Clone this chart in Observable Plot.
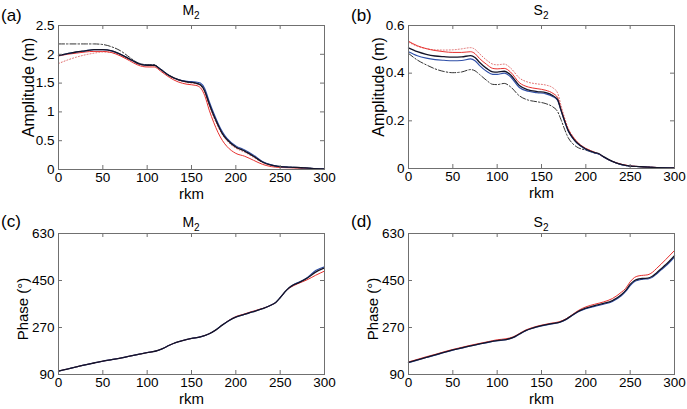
<!DOCTYPE html>
<html>
<head>
<meta charset="utf-8">
<script src="https://cdn.jsdelivr.net/npm/d3@7"></script>
<script src="https://cdn.jsdelivr.net/npm/@observablehq/plot@0.6"></script>
<style>
  html, body { margin: 0; padding: 0; background: #fff; }
  #root { position: relative; width: 687px; height: 409px; overflow: hidden; font-family: "Liberation Sans", Arial, sans-serif; color: #000; }
  .panel { position: absolute; }
  .tag { position: absolute; font-size: 17px; line-height: 17px; }
  .ttl { position: absolute; font-size: 14px; line-height: 14px; transform: translateX(-50%); white-space: nowrap; }
  .ttl sub { font-size: 10px; vertical-align: -4px; }
</style>
</head>
<body>
<div id="root"></div>
<script>
// ---------- data ----------
const xTicks = [0, 50, 100, 150, 200, 250, 300];
const ampM2Ticks = [0, 0.5, 1, 1.5, 2, 2.5];
const ampS2Ticks = [0, 0.2, 0.4, 0.6];
const phaseTicks = [90, 270, 450, 630];

// (a) M2 amplitude
const kmA = [0,10,20,30,40,50,60,70,80,90,100,108,115,125,135,145,155,160,165,170,175,180,185,190,200,210,220,230,240,250,260,270,285,300];
const ampM2Black = [1.98,2.01,2.04,2.06,2.08,2.08,2.06,2.00,1.92,1.84,1.81,1.81,1.74,1.63,1.56,1.52,1.50,1.47,1.36,1.14,0.94,0.77,0.62,0.52,0.39,0.32,0.23,0.13,0.075,0.05,0.04,0.035,0.02,0.01];
const ampM2Blue  = [1.98,2.01,2.04,2.06,2.08,2.08,2.06,2.00,1.92,1.84,1.81,1.81,1.74,1.63,1.56,1.53,1.52,1.50,1.40,1.18,0.98,0.80,0.65,0.54,0.41,0.34,0.25,0.14,0.08,0.05,0.04,0.035,0.02,0.01];
const ampM2Red   = [1.97,2.00,2.02,2.04,2.05,2.05,2.03,1.97,1.89,1.81,1.78,1.78,1.71,1.60,1.52,1.48,1.46,1.42,1.28,1.03,0.82,0.64,0.50,0.40,0.28,0.23,0.16,0.09,0.05,0.035,0.03,0.025,0.015,0.005];
const ampM2Dot   = [1.84,1.90,1.95,1.99,2.02,2.04,2.03,1.98,1.91,1.83,1.80,1.80,1.73,1.62,1.55,1.51,1.49,1.46,1.34,1.11,0.91,0.74,0.60,0.50,0.37,0.30,0.21,0.12,0.07,0.045,0.035,0.03,0.02,0.01];
const ampM2DashDot = [2.18,2.18,2.18,2.18,2.18,2.17,2.13,2.06,1.95,1.85,1.82,1.82,1.74,1.63,1.56,1.52,1.50,1.47,1.36,1.14,0.94,0.77,0.62,0.52,0.39,0.32,0.23,0.13,0.075,0.05,0.04,0.035,0.02,0.01];

// (b) S2 amplitude
const kmB = [0,10,20,30,40,50,60,70,75,80,88,95,100,108,115,125,135,145,155,163,168,172,176,180,185,190,200,210,215,220,230,240,250,260,275,300];
const ampS2Red   = [0.534,0.515,0.503,0.495,0.490,0.487,0.487,0.490,0.482,0.462,0.437,0.420,0.418,0.420,0.405,0.360,0.342,0.335,0.328,0.315,0.298,0.250,0.205,0.165,0.135,0.112,0.084,0.068,0.060,0.048,0.030,0.018,0.011,0.008,0.005,0.002];
const ampS2Black = [0.506,0.490,0.479,0.472,0.469,0.467,0.468,0.474,0.466,0.446,0.420,0.405,0.404,0.408,0.393,0.348,0.330,0.323,0.318,0.305,0.290,0.245,0.200,0.160,0.130,0.108,0.082,0.067,0.062,0.050,0.030,0.017,0.010,0.008,0.005,0.002];
const ampS2Blue  = [0.490,0.473,0.463,0.457,0.454,0.452,0.453,0.460,0.452,0.433,0.408,0.395,0.395,0.400,0.385,0.340,0.324,0.318,0.313,0.301,0.287,0.243,0.198,0.158,0.128,0.106,0.080,0.065,0.060,0.048,0.029,0.016,0.010,0.008,0.005,0.002];
const ampS2Dot   = [0.530,0.513,0.503,0.498,0.497,0.498,0.502,0.507,0.500,0.482,0.455,0.438,0.435,0.438,0.422,0.380,0.362,0.355,0.350,0.338,0.318,0.265,0.213,0.170,0.137,0.113,0.085,0.068,0.060,0.048,0.030,0.018,0.011,0.008,0.005,0.002];
const ampS2DashDot = [0.483,0.455,0.435,0.418,0.407,0.402,0.405,0.415,0.410,0.395,0.370,0.353,0.352,0.357,0.343,0.305,0.287,0.280,0.272,0.258,0.240,0.205,0.165,0.130,0.105,0.090,0.077,0.065,0.060,0.048,0.029,0.016,0.010,0.008,0.005,0.002];

// (c) M2 phase
const kmC = [0,10,20,30,40,50,60,70,80,90,100,110,118,125,132,140,150,160,170,178,185,192,200,208,215,222,230,240,245,250,255,260,265,270,280,290,300];
const phM2Black = [103,111,119,127,134,141,147,153,160,167,174,180,190,202,212,220,228,234,246,262,280,296,310,318,326,333,342,356,366,384,405,422,433,440,458,482,498];
const phM2Red   = [103,111,119,127,134,141,147,153,160,167,174,180,190,202,212,220,228,234,246,262,280,297,312,320,328,335,343,356,366,384,405,420,430,438,452,470,486];
const phM2Blue  = [103,111,119,127,134,141,147,153,160,167,174,180,190,202,212,220,228,234,246,262,280,296,310,318,326,333,342,356,366,384,405,422,434,442,460,488,503];

// (d) S2 phase
const kmD = [0,10,20,30,40,50,60,70,80,90,100,110,118,125,132,140,150,160,170,178,185,192,200,210,220,230,240,245,250,255,260,265,270,275,280,285,290,300];
const phS2Black = [136,146,156,165,175,184,192,200,207,214,220,224,232,245,258,268,277,284,290,302,318,333,344,354,362,373,395,412,435,450,456,458,459,466,480,495,510,545];
const phS2Red   = [138,148,158,167,177,186,194,202,209,216,223,227,234,247,260,270,279,286,292,304,320,336,349,359,368,381,405,420,445,462,468,470,472,481,497,513,530,565];
const phS2Blue  = [135,145,155,164,174,183,191,199,206,213,219,223,231,244,257,267,276,283,289,301,317,331,342,351,359,370,391,408,430,446,452,455,456,462,476,491,505,540];

// ---------- styles ----------
const ST = {
  dot:     {stroke: "#e06a6a", strokeWidth: 1, strokeDasharray: "1,2"},
  dashdot: {stroke: "#333", strokeWidth: 1, strokeDasharray: "6,2,1.5,2"},
  red:     {stroke: "#e8312f", strokeWidth: 1},
  blue:    {stroke: "#2f4fa8", strokeWidth: 1.1},
  black:   {stroke: "#141428", strokeWidth: 1.3}
};
const FONT = '"Liberation Sans", Arial, sans-serif';
const FRAME = "#707070";

function panel({left, top, width, height, margins, km, series, yDomain, yTicks, yLabel, yLabelDx, yLabelDy, yLabelSize, tag, title, titleY, tagX, tagY}) {
  const [mt, mr, mb, ml] = margins;
  const pw = width - ml - mr, ph = height - mt - mb;
  const marks = [];
  for (const s of series) {
    const rows = km.map((x, i) => ({x, y: s.values[i]}));
    marks.push(Plot.line(rows, {x: "x", y: "y", curve: "monotone-x", ...ST[s.style]}));
  }
  marks.push(
    Plot.frame({stroke: FRAME, strokeWidth: 1}),
    // inward ticks on all four sides
    Plot.ruleX(xTicks, {x: d => d, insetTop: ph - 4, stroke: FRAME}),
    Plot.ruleX(xTicks, {x: d => d, insetBottom: ph - 4, stroke: FRAME}),
    Plot.ruleY(yTicks, {y: d => d, insetRight: pw - 4, stroke: FRAME}),
    Plot.ruleY(yTicks, {y: d => d, insetLeft: pw - 4, stroke: FRAME}),
    Plot.axisX(xTicks, {tickSize: 0, tickPadding: 3, label: null, fontSize: 13.5, fill: "#000"}),
    Plot.axisY(yTicks, {tickSize: 0, tickPadding: 4, label: null, fontSize: 13.5, fill: "#000", tickFormat: d => String(d)}),
    Plot.text(["rkm"], {text: d => d, frameAnchor: "bottom", textAnchor: "middle", dy: 25, fontSize: 15, lineAnchor: "middle"}),
    Plot.text([yLabel], {text: d => d, frameAnchor: "left", textAnchor: "middle", dx: -yLabelDx, dy: yLabelDy, rotate: -90, fontSize: yLabelSize, lineAnchor: "middle"})
  );
  const chart = Plot.plot({
    width, height,
    marginTop: mt, marginRight: mr, marginBottom: mb, marginLeft: ml,
    x: {domain: [0, 300], axis: null},
    y: {domain: yDomain, axis: null},
    style: {fontFamily: FONT, fontSize: "14px", background: "transparent", overflow: "visible"},
    marks
  });
  const wrap = document.createElement("div");
  wrap.className = "panel";
  wrap.style.left = left + "px";
  wrap.style.top = top + "px";
  wrap.appendChild(chart);
  const root = document.getElementById("root");
  root.appendChild(wrap);

  const t = document.createElement("div");
  t.className = "ttl";
  t.innerHTML = title;
  t.style.left = (left + ml + pw / 2) + "px";
  t.style.top = titleY + "px";
  root.appendChild(t);

  const g = document.createElement("div");
  g.className = "tag";
  g.textContent = tag;
  g.style.left = tagX + "px";
  g.style.top = tagY + "px";
  root.appendChild(g);
}

panel({
  left: 0, top: 0, width: 345, height: 200, margins: [25, 21, 31, 58],
  km: kmA,
  series: [
    {values: ampM2Dot, style: "dot"},
    {values: ampM2DashDot, style: "dashdot"},
    {values: ampM2Red, style: "red"},
    {values: ampM2Blue, style: "blue"},
    {values: ampM2Black, style: "black"}
  ],
  yDomain: [0, 2.5], yTicks: ampM2Ticks, yLabel: "Amplitude (m)", yLabelDx: 30, yLabelDy: -10, yLabelSize: 16,
  tag: "(a)", title: "M<sub>2</sub>", titleY: 3, tagX: 1, tagY: 7
});

panel({
  left: 345, top: 0, width: 342, height: 200, margins: [25, 13, 32, 63],
  km: kmB,
  series: [
    {values: ampS2Dot, style: "dot"},
    {values: ampS2DashDot, style: "dashdot"},
    {values: ampS2Red, style: "red"},
    {values: ampS2Blue, style: "blue"},
    {values: ampS2Black, style: "black"}
  ],
  yDomain: [0, 0.6], yTicks: ampS2Ticks, yLabel: "Amplitude (m)", yLabelDx: 30, yLabelDy: -10, yLabelSize: 16,
  tag: "(b)", title: "S<sub>2</sub>", titleY: 3, tagX: 351, tagY: 7
});

panel({
  left: 0, top: 200, width: 345, height: 209, margins: [33, 21, 35, 58],
  km: kmC,
  series: [
    {values: phM2Red, style: "red"},
    {values: phM2Blue, style: "blue"},
    {values: phM2Black, style: "black"}
  ],
  yDomain: [90, 630], yTicks: phaseTicks, yLabel: "Phase (°)", yLabelDx: 35, yLabelDy: 5, yLabelSize: 15,
  tag: "(c)", title: "M<sub>2</sub>", titleY: 215, tagX: 1, tagY: 213
});

panel({
  left: 345, top: 200, width: 342, height: 209, margins: [33, 13, 35, 63],
  km: kmD,
  series: [
    {values: phS2Red, style: "red"},
    {values: phS2Blue, style: "blue"},
    {values: phS2Black, style: "black"}
  ],
  yDomain: [90, 630], yTicks: phaseTicks, yLabel: "Phase (°)", yLabelDx: 35, yLabelDy: 5, yLabelSize: 15,
  tag: "(d)", title: "S<sub>2</sub>", titleY: 215, tagX: 351, tagY: 213
});
</script>
</body>
</html>
